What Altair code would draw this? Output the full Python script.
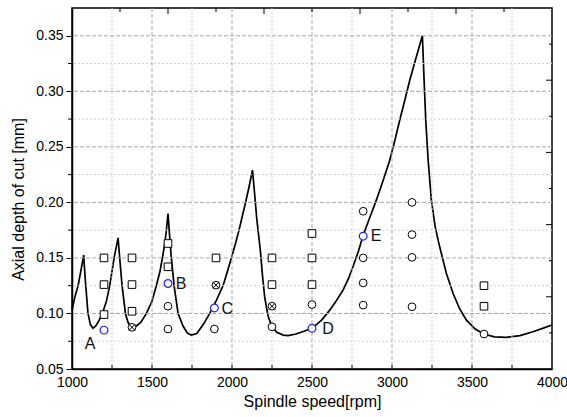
import altair as alt
import pandas as pd

# ---------------- data ----------------
curve_rpm = [1000, 1020, 1038, 1055, 1073, 1076, 1086, 1100, 1115, 1131, 1150, 1170, 1190, 1215,
             1236, 1263, 1288, 1298, 1313, 1334, 1350, 1375, 1400, 1430, 1465, 1500, 1527, 1550,
             1565, 1580, 1590, 1600, 1610, 1621, 1638, 1663, 1694, 1720, 1746, 1780, 1820, 1861,
             1900, 1944, 1970, 1996, 2020, 2044, 2065, 2085, 2105, 2128, 2140, 2155, 2177, 2190,
             2204, 2225, 2250, 2280, 2320, 2350, 2400, 2450, 2500, 2560, 2611, 2650, 2694, 2730,
             2756, 2790, 2819, 2860, 2902, 2945, 2986, 3020, 3048, 3080, 3111, 3150, 3190, 3200,
             3211, 3225, 3246, 3270, 3298, 3340, 3382, 3420, 3465, 3520, 3573, 3640, 3715, 3800,
             3881, 3950, 4000]
curve_depth = [0.103, 0.116, 0.125, 0.138, 0.1525, 0.145, 0.125, 0.100, 0.090, 0.0866, 0.089, 0.094,
               0.100, 0.111, 0.125, 0.150, 0.168, 0.150, 0.125, 0.100, 0.092, 0.087, 0.0885, 0.092,
               0.100, 0.111, 0.125, 0.138, 0.150, 0.163, 0.175, 0.190, 0.170, 0.150, 0.125, 0.100,
               0.0887, 0.0825, 0.0806, 0.082, 0.090, 0.100, 0.111, 0.125, 0.137, 0.150, 0.162, 0.175,
               0.188, 0.200, 0.213, 0.229, 0.210, 0.185, 0.157, 0.135, 0.115, 0.098, 0.088, 0.083,
               0.0805, 0.080, 0.0815, 0.084, 0.0866, 0.094, 0.103, 0.111, 0.121, 0.132, 0.142, 0.156,
               0.170, 0.186, 0.202, 0.220, 0.238, 0.257, 0.274, 0.292, 0.310, 0.330, 0.350, 0.312,
               0.274, 0.240, 0.202, 0.178, 0.160, 0.136, 0.118, 0.105, 0.094, 0.086, 0.0815, 0.079,
               0.0785, 0.080, 0.0835, 0.087, 0.0896]

square_rpm = [1200, 1200, 1200, 1375, 1375, 1375, 1600, 1600, 1900, 2250, 2250, 2500, 2500, 2500, 3575, 3575]
square_depth = [0.150, 0.126, 0.099, 0.150, 0.126, 0.102, 0.163, 0.142, 0.150, 0.150, 0.126, 0.172, 0.150, 0.126, 0.125, 0.1065]

circle_rpm = [1600, 1600, 1890, 2250, 2500, 2820, 2820, 2820, 2820, 3125, 3125, 3125, 3125, 3575]
circle_depth = [0.1065, 0.086, 0.086, 0.088, 0.108, 0.192, 0.150, 0.1275, 0.1075, 0.200, 0.171, 0.1505, 0.106, 0.0815]

crossed_rpm = [1375, 1900, 2250]
crossed_depth = [0.0875, 0.1255, 0.1065]

point_label = ["A", "B", "C", "D", "E"]
point_rpm = [1200, 1600, 1890, 2500, 2820]
point_depth = [0.085, 0.127, 0.105, 0.0866, 0.1696]

x_tick_values = [1000, 1500, 2000, 2500, 3000, 3500, 4000]
x_major_grid = [1500, 2000, 2500, 3000, 3500]
x_minor_grid = [1250, 1750, 2250, 2750, 3250, 3750]
y_tick_values = [0.05, 0.10, 0.15, 0.20, 0.25, 0.30, 0.35]
y_major_grid = [0.10, 0.15, 0.20, 0.25, 0.30, 0.35]
y_minor_grid = [0.075, 0.125, 0.175, 0.225, 0.275, 0.325]
top_major_ticks = [1600, 2200, 2800, 3400]
top_minor_ticks = [1300, 1900, 2500, 3100, 3700]
right_major_ticks = [0.115, 0.18, 0.245, 0.31]
right_minor_ticks = [0.0825, 0.1475, 0.2125, 0.2775, 0.3425]

# ---------------- chart ----------------
W, H = 480, 361
FONT = "Liberation Sans"
xs = alt.Scale(domain=[1000, 4000], nice=False, zero=False)
ys = alt.Scale(domain=[0.05, 0.375], nice=False, zero=False)

x_axis = alt.Axis(
    values=x_tick_values, format="d", grid=False, ticks=False, tickSize=0, labelPadding=6,
    labelFlush=False, labelOverlap=False, labelFontSize=14, labelColor="black", labelFont=FONT,
    domainColor="black", domainWidth=1.5,
    title="Spindle speed[rpm]", titleFontSize=16, titleFont=FONT, titleFontWeight="normal",
    titleColor="black", titlePadding=4)
y_axis = alt.Axis(
    values=y_tick_values, format=".2f", grid=False, tickSize=6, tickColor="black", tickWidth=1,
    labelPadding=3, labelFlush=False, labelOverlap=False, labelFontSize=14, labelColor="black",
    labelFont=FONT, domainColor="black", domainWidth=1.5,
    title="Axial depth of cut [mm]", titleFontSize=16, titleFont=FONT, titleFontWeight="normal",
    titleColor="black", titleX=-54, titleY=191, titleAlign="center", titleBaseline="middle",
    titleAngle=270)


def XE():
    return alt.X("x:Q", scale=xs, axis=x_axis, title="Spindle speed[rpm]")


def YE():
    return alt.Y("y:Q", scale=ys, axis=y_axis, title="Axial depth of cut [mm]")


curve_df = pd.DataFrame({"x": curve_rpm, "y": curve_depth})
sq_df = pd.DataFrame({"x": square_rpm, "y": square_depth})
ci_df = pd.DataFrame({"x": circle_rpm, "y": circle_depth})
cx_df = pd.DataFrame({"x": crossed_rpm, "y": crossed_depth})
pt_df = pd.DataFrame({"x": point_rpm, "y": point_depth, "label": point_label})


def xonly(vals):
    return alt.Chart(pd.DataFrame({"x": vals}))


def yonly(vals):
    return alt.Chart(pd.DataFrame({"y": vals}))


grid_major_x = xonly(x_major_grid).mark_rule(color="#a8a8a8", strokeDash=[4, 2], strokeWidth=1).encode(x=XE())
grid_minor_x = xonly(x_minor_grid).mark_rule(color="#cfcfcf", strokeDash=[2, 2], strokeWidth=1).encode(x=XE())
grid_major_y = yonly(y_major_grid).mark_rule(color="#a8a8a8", strokeDash=[4, 2], strokeWidth=1).encode(y=YE())
grid_minor_y = yonly(y_minor_grid).mark_rule(color="#cfcfcf", strokeDash=[2, 2], strokeWidth=1).encode(y=YE())

bottom_ticks = xonly(x_major_grid + x_minor_grid).mark_rule(color="black", strokeWidth=1).encode(
    x=XE(), y=alt.value(H), y2=alt.value(H - 4))
top_ticks_major = xonly(top_major_ticks).mark_rule(color="black", strokeWidth=1).encode(
    x=XE(), y=alt.value(0), y2=alt.value(6))
top_ticks_minor = xonly(top_minor_ticks).mark_rule(color="black", strokeWidth=1).encode(
    x=XE(), y=alt.value(0), y2=alt.value(4))
right_ticks_major = yonly(right_major_ticks).mark_rule(color="black", strokeWidth=1).encode(
    y=YE(), x=alt.value(W), x2=alt.value(W - 6))
right_ticks_minor = yonly(right_minor_ticks).mark_rule(color="black", strokeWidth=1).encode(
    y=YE(), x=alt.value(W), x2=alt.value(W - 3))
left_minor = yonly(y_minor_grid).mark_rule(color="black", strokeWidth=1).encode(
    y=YE(), x=alt.value(-4), x2=alt.value(0))

curve = alt.Chart(curve_df).mark_line(color="black", strokeWidth=1.7).encode(x=XE(), y=YE())

squares = alt.Chart(sq_df).mark_point(shape="square", filled=True, fill="white", stroke="black",
                                      strokeWidth=1, size=58, opacity=1).encode(x=XE(), y=YE())
circles = alt.Chart(ci_df).mark_point(shape="circle", filled=True, fill="white", stroke="black",
                                      strokeWidth=1, size=60, opacity=1).encode(x=XE(), y=YE())
crossed_c = alt.Chart(cx_df).mark_point(shape="circle", filled=True, fill="white", stroke="black",
                                        strokeWidth=1, size=60, opacity=1).encode(x=XE(), y=YE())
crossed_x = alt.Chart(cx_df).mark_point(shape="M-0.8,-0.8L0.8,0.8M-0.8,0.8L0.8,-0.8", filled=False,
                                        stroke="black", strokeWidth=1, size=60, opacity=1).encode(x=XE(), y=YE())
blue = alt.Chart(pt_df).mark_point(shape="circle", filled=True, fill="white", stroke="#1f1fff",
                                   strokeWidth=1.2, size=60, opacity=1).encode(x=XE(), y=YE())

label_offsets = {"A": (-14, 14), "B": (13, 1), "C": (13, 1), "D": (16, 1), "E": (13, 0)}
labels = [
    alt.Chart(pt_df).transform_filter(alt.datum.label == lab).mark_text(
        fontSize=16, font=FONT, color="#111111", dx=d[0], dy=d[1], align="center", baseline="middle"
    ).encode(x=XE(), y=YE(), text="label:N")
    for lab, d in label_offsets.items()
]

chart = alt.layer(
    curve, grid_minor_x, grid_minor_y, grid_major_x, grid_major_y,
    squares, circles, crossed_c, crossed_x, blue, *labels,
    bottom_ticks, top_ticks_major, top_ticks_minor, right_ticks_major, right_ticks_minor, left_minor,
).properties(
    width=W, height=H,
    padding={"left": 72, "top": 8, "right": 15, "bottom": 48},
    autosize=alt.AutoSizeParams(type="none"),
    background="white",
).configure_view(stroke="black", strokeWidth=1.5)

chart.save("out.html", embed_options={"renderer": "svg", "actions": False})
